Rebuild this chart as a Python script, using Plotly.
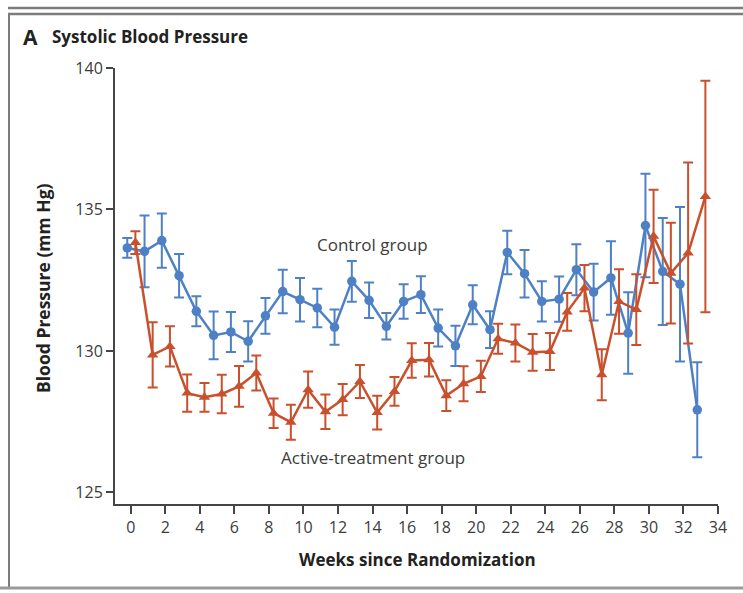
import plotly.graph_objects as go

# Systolic blood pressure by week since randomization (mean with error bars)
weeks = list(range(34))

control_mean = [133.64, 133.52, 133.90, 132.66, 131.40, 130.55, 130.67, 130.34,
                131.24, 132.10, 131.81, 131.52, 130.84, 132.46, 131.79, 130.87,
                131.75, 131.99, 130.81, 130.18, 131.63, 130.75, 133.48, 132.73,
                131.75, 131.83, 132.87, 132.08, 132.58, 130.63, 134.43, 132.81,
                132.36, 127.92]
control_err = [0.35, 1.27, 0.96, 0.77, 0.53, 0.84, 0.71, 0.71,
               0.63, 0.77, 0.77, 0.68, 0.62, 0.72, 0.63, 0.47,
               0.61, 0.65, 0.65, 0.71, 0.69, 0.65, 0.77, 0.84,
               0.71, 0.80, 0.90, 1.00, 1.30, 1.44, 1.83, 1.89,
               2.73, 1.68]

active_mean = [133.83, 129.86, 130.16, 128.51, 128.36, 128.48, 128.75, 129.22,
               127.80, 127.48, 128.63, 127.85, 128.28, 128.92, 127.82, 128.57,
               129.66, 129.69, 128.42, 128.84, 129.10, 130.43, 130.28, 129.95,
               129.98, 131.38, 132.22, 129.16, 131.75, 131.46, 134.05, 132.75,
               133.46, 135.46]
active_err = [0.40, 1.15, 0.71, 0.66, 0.51, 0.68, 0.72, 0.62,
              0.52, 0.62, 0.64, 0.61, 0.55, 0.58, 0.60, 0.51,
              0.61, 0.59, 0.54, 0.62, 0.55, 0.53, 0.65, 0.65,
              0.65, 0.67, 0.82, 0.90, 1.14, 1.25, 1.65, 1.78,
              3.20, 4.09]

x_ticks = list(range(0, 35, 2))
y_ticks = [125, 130, 135, 140]

BLUE = "#4e80c5"
RED = "#c9502d"
AXIS = "#454545"
TEXT = "#3c3c3c"
FONT = "Open Sans"

# small horizontal dodge so the two groups' error bars do not overlap
CONTROL_SHIFT = -0.2
ACTIVE_SHIFT = 0.27

# page geometry (pixels)
W, H = 743, 593
L, R, T, B = 115, 25, 68, 89
PW, PH = W - L - R, H - T - B


def px(x):
    return (x - L) / PW


def py(y):
    return (H - B - y) / PH


fig = go.Figure()

fig.add_trace(go.Scatter(
    x=[w + CONTROL_SHIFT for w in weeks], y=control_mean,
    mode="lines+markers", name="Control group",
    line=dict(color=BLUE, width=2.5),
    marker=dict(symbol="circle", size=9.5, color=BLUE),
    error_y=dict(type="data", array=control_err, visible=True,
                 color=BLUE, thickness=2, width=5),
))

fig.add_trace(go.Scatter(
    x=[w + ACTIVE_SHIFT for w in weeks], y=active_mean,
    mode="lines+markers", name="Active-treatment group",
    line=dict(color=RED, width=2.5),
    marker=dict(symbol="triangle-up", size=10, color=RED),
    error_y=dict(type="data", array=active_err, visible=True,
                 color=RED, thickness=2, width=5),
))

annotations = [
    dict(x=14, y=133.75, xref="x", yref="y", text="Control group",
         showarrow=False, font=dict(family=FONT, size=17, color=TEXT)),
    dict(x=14, y=126.22, xref="x", yref="y", text="Active-treatment group",
         showarrow=False, font=dict(family=FONT, size=17, color=TEXT)),
    dict(x=px(21), y=py(37), xref="paper", yref="paper", text="<b>A</b>",
         xanchor="left", yanchor="middle", showarrow=False,
         font=dict(family=FONT, size=21, color="#222")),
    dict(x=px(50), y=py(37), xref="paper", yref="paper",
         text="<b>Systolic Blood Pressure</b>",
         xanchor="left", yanchor="middle", showarrow=False,
         font=dict(family=FONT, size=17, color="#222")),
    dict(x=px(417), y=py(559), xref="paper", yref="paper",
         text="<b>Weeks since Randomization</b>",
         xanchor="center", yanchor="middle", showarrow=False,
         font=dict(family=FONT, size=17, color="#222")),
    dict(x=px(43), y=py(288), xref="paper", yref="paper",
         text="<b>Blood Pressure (mm Hg)</b>", textangle=-90,
         xanchor="center", yanchor="middle", showarrow=False,
         font=dict(family=FONT, size=17.5, color="#222")),
]

frame = "#7c7c7c"
shapes = [
    dict(type="line", xref="paper", yref="paper", x0=px(8), x1=px(743),
         y0=py(8), y1=py(8), line=dict(color=frame, width=2.5)),
    dict(type="line", xref="paper", yref="paper", x0=px(8), x1=px(743),
         y0=py(14), y1=py(14), line=dict(color=frame, width=2.5)),
    dict(type="line", xref="paper", yref="paper", x0=px(9), x1=px(9),
         y0=py(14), y1=py(588), line=dict(color=frame, width=2)),
    dict(type="line", xref="paper", yref="paper", x0=px(0), x1=px(743),
         y0=py(588), y1=py(588), line=dict(color="#9a9a9a", width=3)),
]

axis_common = dict(
    showline=True, linecolor=AXIS, linewidth=2, mirror=False,
    ticks="outside", tickwidth=2, tickcolor=AXIS,
    showgrid=False, zeroline=False,
    tickfont=dict(family=FONT, size=16, color=TEXT),
)

fig.update_layout(
    width=W, height=H,
    margin=dict(l=L, r=R, t=T, b=B),
    paper_bgcolor="white", plot_bgcolor="white",
    showlegend=False,
    xaxis=dict(range=[-0.91, 34], tickvals=x_ticks, ticklen=8, **axis_common),
    yaxis=dict(range=[124.59, 140], tickvals=y_ticks, ticklen=7, **axis_common),
    annotations=annotations,
    shapes=shapes,
)

fig.write_html("out.html")
